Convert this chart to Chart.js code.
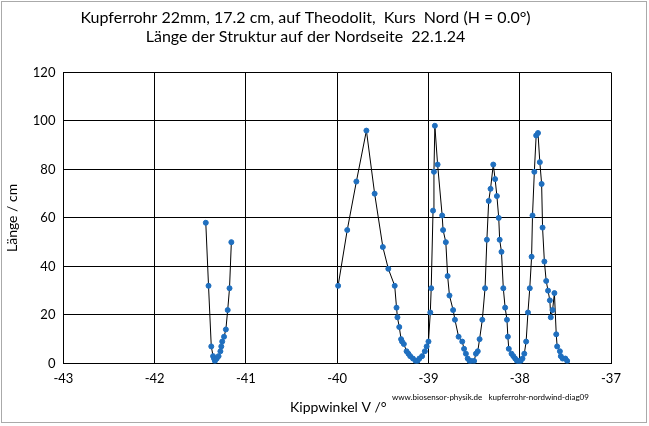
<!DOCTYPE html>
<html><head><meta charset="utf-8">
<script src="https://cdn.jsdelivr.net/npm/chart.js@4/dist/chart.umd.min.js"></script>
<style>html,body{margin:0;padding:0;background:#fff}#w{position:relative;width:649px;height:426px}</style>
</head><body><div id="w"><canvas id="c" width="649" height="426"></canvas></div>
<script>
const xValues = [-41.44,-41.41,-41.38,-41.36,-41.35,-41.34,-41.32,-41.30,-41.28,-41.27,-41.26,-41.24,-41.22,-41.20,-41.18,-41.16,
 null,
 -39.99,-39.89,-39.79,-39.68,-39.59,-39.50,-39.44,-39.37,-39.35,-39.34,-39.32,-39.30,-39.29,-39.27,-39.24,-39.22,-39.20,-39.17,-39.14,-39.12,-39.10,-39.07,-39.04,-39.02,-39.00,-38.98,-38.97,-38.95,
 -38.94,-38.93,-38.90,-38.85,-38.84,-38.81,-38.79,-38.77,-38.73,-38.71,-38.67,-38.63,-38.61,-38.59,-38.57,-38.55,-38.53,-38.50,-38.48,-38.46,-38.44,-38.41,-38.38,-38.36,-38.34,-38.32,-38.29,-38.27,-38.25,-38.23,-38.22,-38.20,-38.18,-38.16,-38.14,-38.13,-38.12,
 -38.09,-38.07,-38.05,-38.03,-38.01,-37.99,-37.97,-37.95,-37.93,-37.91,-37.89,-37.87,-37.86,-37.84,-37.82,-37.80,-37.78,-37.76,-37.75,-37.73,-37.71,-37.69,-37.67,-37.66,-37.64,-37.62,-37.60,-37.59,-37.56,-37.55,-37.53,-37.50,-37.48,-37.46];
const yValues = [58,32,7,3,2,1,2,3,5,7,9,11,14,22,31,50,
 null,
 32,55,75,96,70,48,39,32,23,19,15,10,9,8,5,4,3,2,1,1,2,3,5,7,9,21,31,
 63,79,98,82,61,55,50,36,28,22,18,11,9,6,4,2,1,1,1,4,5,10,18,31,51,67,72,82,76,69,60,51,46,31,23,18,11,
 6,4,3,2,1,1,1,2,4,9,21,31,44,61,79,94,95,83,74,56,42,34,30,26,19,22,29,12,7,5,3,2,2,1];
const xTicks = [-43,-42,-41,-40,-39,-38,-37];
const titleLines = ["Kupferrohr 22mm, 17.2 cm, auf Theodolit,  Kurs  Nord (H = 0.0°)","Länge der Struktur auf der Nordseite  22.1.24"];
const xLabel = "Kippwinkel V /°";
const yLabel = "Länge / cm";
const credit = "www.biosensor-physik.de   kupferrohr-nordwind-diag09";

const pts = xValues.map((x,i)=> x===null ? {x:null,y:null} : {x:x,y:yValues[i]});
const F = "Lato, 'Open Sans', sans-serif";
const deco = {id:'deco', afterDraw(ch){
  const c=ch.ctx; c.save();
  c.strokeStyle='#aaa'; c.lineWidth=1; c.strokeRect(1.5,1.5,645,421);
  c.fillStyle='#000'; c.textAlign='left'; c.textBaseline='alphabetic';
  c.font='14px '+F; c.fillText(xLabel,290,412);
  c.font='8px '+F; c.fillText(credit,392,400);
  c.restore();
}};
new Chart(document.getElementById('c'),{
  type:'scatter',
  data:{datasets:[{data:pts,showLine:true,spanGaps:false,borderColor:'#000',borderWidth:1,
    pointBackgroundColor:'#1f6fbf',pointBorderColor:'#1f6fbf',pointRadius:2.5}]},
  options:{responsive:false,animation:false,
    layout:{padding:{left:0,right:38,top:0,bottom:31}},
    plugins:{legend:{display:false},tooltip:{enabled:false},
      title:{display:true,text:titleLines,color:'#000',font:{family:F,size:16,weight:'normal'},padding:{top:8,bottom:26},lineHeight:1.35}},
    scales:{
      x:{type:'linear',min:-43,max:-37,
        afterBuildTicks(a){a.ticks=xTicks.map(v=>({value:v}));},
        grid:{color:'#000',lineWidth:1,drawTicks:false},border:{color:'#000'},
        ticks:{color:'#000',font:{family:F,size:13},padding:8}},
      y:{min:0,max:120,ticks:{stepSize:20,color:'#000',font:{family:F,size:13},padding:8},
        grid:{color:'#000',lineWidth:1,drawTicks:false},border:{color:'#000'},
        title:{display:true,text:yLabel,color:'#000',font:{family:F,size:14},padding:4}}
    }}
  ,plugins:[deco]});
</script></body></html>
